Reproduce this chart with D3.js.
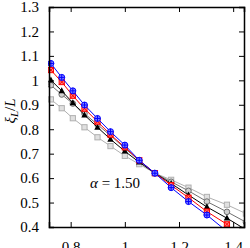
<!DOCTYPE html>
<html>
<head>
<meta charset="utf-8">
<script src="https://cdn.jsdelivr.net/npm/d3@7"></script>
<style>
  body { margin: 0; background: #fff; }
  svg text { font-family: "Liberation Serif", "DejaVu Serif", serif; }
</style>
</head>
<body>
<div id="chart"></div>
<script>
var svgWidth = 250;
var svgHeight = 248;

var margin = { top: 7, right: 6, bottom: 21, left: 49 };
var width = svgWidth - margin.left - margin.right;
var height = svgHeight - margin.top - margin.bottom;

// data
var xVals = [0.727, 0.767, 0.808, 0.851, 0.899, 0.947, 1.0, 1.053, 1.111, 1.171, 1.235, 1.303, 1.377, 1.447];
var blueVals = [1.069, 1.012, 0.957, 0.899, 0.844, 0.790, 0.735, 0.673, 0.620, 0.561, 0.504, 0.449, 0.382];
var redVals = [1.042, 0.993, 0.937, 0.884, 0.831, 0.778, 0.726, 0.673, 0.620, 0.571, 0.520, 0.463, 0.411];
var blackVals = [1.001, 0.957, 0.908, 0.858, 0.808, 0.759, 0.710, 0.665, 0.620, 0.578, 0.531, 0.482, 0.436, 0.389];
var grayVals = [0.980, 0.942, 0.905, 0.864, 0.819, 0.774, 0.722, 0.671, 0.620, 0.585, 0.548, 0.504, 0.462, 0.420];
var lightVals = [0.922, 0.886, 0.845, 0.808, 0.767, 0.731, 0.691, 0.657, 0.620, 0.593, 0.561, 0.523, 0.491, 0.455];
var xTicks = [0.8, 1, 1.2, 1.4];
var yTicks = [0.4, 0.5, 0.6, 0.7, 0.8, 0.9, 1, 1.1, 1.2, 1.3];

var series = [
  { vals: lightVals, color: "#b0b0b0", marker: "square" },
  { vals: grayVals, color: "#707070", marker: "circle" },
  { vals: blackVals, color: "#000000", marker: "triangle" },
  { vals: redVals, color: "#ff0000", marker: "redsq" },
  { vals: blueVals, color: "#0000ff", marker: "bluecirc" }
];

var svg = d3.select("#chart")
  .append("svg")
  .attr("width", svgWidth)
  .attr("height", svgHeight);

var chartGroup = svg.append("g")
  .attr("transform", `translate(${margin.left}, ${margin.top})`);

var x = d3.scaleLinear().domain([0.72, 1.44]).range([0, width]);
var y = d3.scaleLinear().domain([0.4, 1.3]).range([height, 0]);

chartGroup.append("clipPath").attr("id", "clip")
  .append("rect").attr("x", -1).attr("y", -1)
  .attr("width", width + 2).attr("height", height + 2);

var plot = chartGroup.append("g").attr("clip-path", "url(#clip)");

var line = d3.line()
  .x((d, i) => x(xVals[i]))
  .y(d => y(d));

series.forEach(function(s) {
  var g = plot.append("g");
  g.append("path")
    .datum(s.vals)
    .attr("fill", "none")
    .attr("stroke", s.color)
    .attr("stroke-width", 1)
    .attr("d", line);

  var pts = g.selectAll(".pt")
    .data(s.vals)
    .enter()
    .append("g")
    .attr("transform", (d, i) => `translate(${x(xVals[i])}, ${y(d)})`);

  if (s.marker == "square") {
    pts.append("rect").attr("x", -2.6).attr("y", -2.6).attr("width", 5.2).attr("height", 5.2)
      .attr("fill", "#e0e0e0").attr("stroke", s.color).attr("stroke-width", 1);
  } else if (s.marker == "circle") {
    pts.append("circle").attr("r", 2.8)
      .attr("fill", "#d0d0d0").attr("stroke", s.color).attr("stroke-width", 1);
  } else if (s.marker == "triangle") {
    pts.append("path").attr("d", "M0,-3.6L3.2,2.4L-3.2,2.4Z").attr("fill", s.color);
  } else if (s.marker == "redsq") {
    pts.append("rect").attr("x", -2.6).attr("y", -2.6).attr("width", 5.2).attr("height", 5.2)
      .attr("fill", "#ff8080").attr("stroke", s.color).attr("stroke-width", 1);
    pts.append("path").attr("d", "M-2.6,-2.6L2.6,2.6M-2.6,2.6L2.6,-2.6").attr("stroke", s.color).attr("stroke-width", 1);
  } else {
    pts.append("circle").attr("r", 3)
      .attr("fill", "#8080ff").attr("stroke", s.color).attr("stroke-width", 1);
    pts.append("path").attr("d", "M-3,0L3,0M0,-3L0,3").attr("stroke", s.color).attr("stroke-width", 1);
  }
});

// axes, ticks pointing inward on all sides
var bottomAxis = d3.axisBottom(x).tickValues(xTicks).tickSize(-5).tickPadding(14).tickFormat(d3.format("~g"));
var topAxis = d3.axisTop(x).tickValues(xTicks).tickSize(-5).tickFormat("");
var leftAxis = d3.axisLeft(y).tickValues(yTicks).tickSize(-5).tickPadding(10).tickFormat(d3.format("~g"));
var rightAxis = d3.axisRight(y).tickValues(yTicks).tickSize(-5).tickFormat("");

chartGroup.append("g").attr("transform", `translate(0, ${height})`).call(bottomAxis);
chartGroup.append("g").call(topAxis);
chartGroup.append("g").call(leftAxis);
chartGroup.append("g").attr("transform", `translate(${width}, 0)`).call(rightAxis);

chartGroup.selectAll(".domain").attr("stroke", "#000").attr("stroke-width", 1.5);
chartGroup.selectAll(".tick line").attr("stroke", "#000").attr("stroke-width", 1);
chartGroup.selectAll(".tick text").attr("font-size", "15px").attr("fill", "#000")
  .attr("font-family", "Liberation Serif, serif");

// labels
var al = chartGroup.append("text")
  .attr("x", 41)
  .attr("y", 181)
  .attr("font-size", "15px");
al.append("tspan").attr("font-style", "italic").text("\u03b1");
al.append("tspan").text(" = 1.50");

var yl = svg.append("text")
  .attr("transform", "translate(15, 111) rotate(-90)")
  .attr("text-anchor", "middle")
  .attr("font-size", "15px");
yl.append("tspan").attr("font-style", "italic").text("\u03be");
yl.append("tspan").attr("font-style", "italic").attr("font-size", "11px").attr("dy", 3).text("L");
yl.append("tspan").attr("dy", -3).text("/");
yl.append("tspan").attr("font-style", "italic").text("L");
</script>
</body>
</html>
